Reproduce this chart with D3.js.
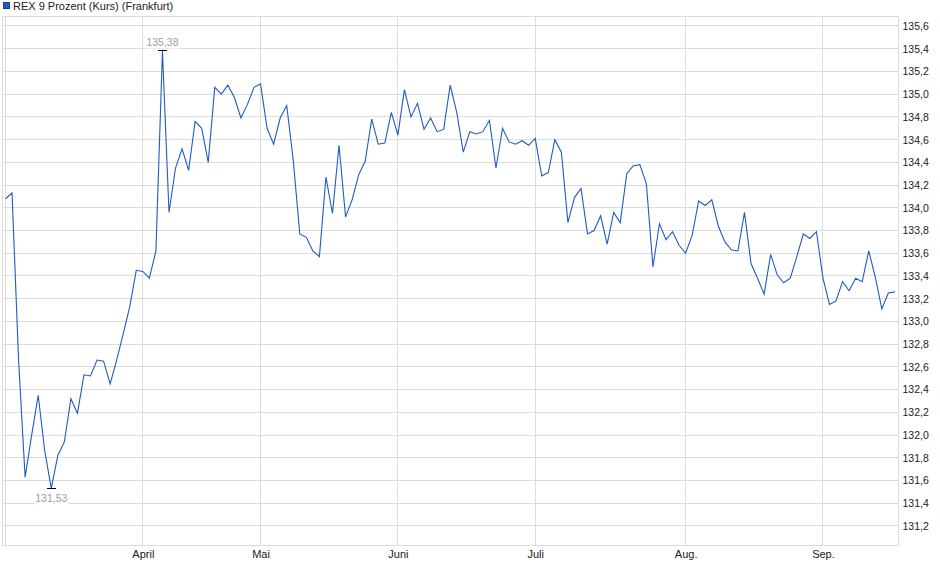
<!DOCTYPE html>
<html>
<head>
<meta charset="utf-8">
<script src="https://cdn.jsdelivr.net/npm/d3@7/dist/d3.min.js"></script>
<style>
  html, body { margin: 0; padding: 0; background: #fff; }
  svg { display: block; font-family: "Liberation Sans", Arial, sans-serif; }
</style>
</head>
<body>
<svg id="chart" width="940" height="579"></svg>
<script>
// ---- data (trading-day index -> closing value) ----
const seriesName = "REX 9 Prozent (Kurs) (Frankfurt)";
const values = [
  134.08, 134.13, 132.66, 131.63, 132.00, 132.35, 131.86, 131.53, 131.82, 131.94,
  132.32, 132.19, 132.53, 132.52, 132.66, 132.65, 132.45, 132.66, 132.89, 133.13,
  133.45, 133.44, 133.38, 133.62, 135.38, 133.96, 134.35, 134.52, 134.33, 134.76,
  134.70, 134.40, 135.06, 135.00, 135.08, 134.97, 134.79, 134.91, 135.06, 135.09,
  134.70, 134.56, 134.79, 134.90, 134.42, 133.77, 133.74, 133.62, 133.57, 134.27,
  133.95, 134.55, 133.92, 134.07, 134.29, 134.41, 134.78, 134.56, 134.57, 134.84,
  134.64, 135.04, 134.80, 134.92, 134.69, 134.79, 134.67, 134.69, 135.08, 134.84,
  134.49, 134.67, 134.65, 134.67, 134.77, 134.35, 134.70, 134.58, 134.56, 134.59,
  134.55, 134.61, 134.28, 134.31, 134.60, 134.49, 133.87, 134.09, 134.17, 133.77,
  133.80, 133.93, 133.68, 133.96, 133.87, 134.30, 134.37, 134.38, 134.21, 133.48,
  133.86, 133.72, 133.79, 133.67, 133.60, 133.76, 134.06, 134.02, 134.07, 133.84,
  133.70, 133.63, 133.62, 133.96, 133.51, 133.38, 133.24, 133.59, 133.41, 133.34,
  133.38, 133.57, 133.77, 133.73, 133.79, 133.38, 133.15, 133.18, 133.35, 133.27,
  133.38, 133.35, 133.62, 133.39, 133.11, 133.25, 133.26
];
// month boundaries (trading-day index of first day of month)
const monthIndex  = [0, 21, 39, 60, 81, 104, 125];
const monthLabels = ["", "April", "Mai", "Juni", "Juli", "Aug.", "Sep."];
// y-axis ticks
const yTicks = [131.2, 131.4, 131.6, 131.8, 132.0, 132.2, 132.4, 132.6, 132.8, 133.0, 133.2,
                133.4, 133.6, 133.8, 134.0, 134.2, 134.4, 134.6, 134.8, 135.0, 135.2, 135.4, 135.6];

// ---- layout ----
const L = 3, R = 898.5, T = 16, B = 545.5;
const svg = d3.select("#chart");
const de = d3.formatLocale({decimal: ",", thousands: ".", grouping: [3], currency: ["", " €"]});
const f1 = de.format(".1f"), f2 = de.format(".2f");

const x = d3.scaleLinear().domain([0, values.length - 1]).range([5.5, 894.9]);
const y = d3.scaleLinear().domain([131.028, 135.688]).range([B, T]);
const px = v => Math.floor(v) + 0.5;

const grid = svg.append("g").attr("stroke", "#dcdcdc").attr("stroke-width", 1).attr("shape-rendering", "crispEdges");
grid.selectAll("line.h").data(yTicks).join("line").attr("class", "h")
  .attr("x1", L).attr("x2", R).attr("y1", d => px(y(d))).attr("y2", d => px(y(d)));
grid.selectAll("line.v").data(monthIndex).join("line").attr("class", "v")
  .attr("x1", d => px(x(d))).attr("x2", d => px(x(d))).attr("y1", T).attr("y2", B);
grid.append("rect").attr("x", L - 0.5).attr("y", T + 0.5).attr("width", R - L + 0.5).attr("height", B - T - 0.5)
  .attr("fill", "none");

// y axis labels (right)
const yAxis = d3.axisRight(y).tickValues(yTicks).tickFormat(f1).tickSize(0).tickPadding(4);
const ya = svg.append("g").attr("transform", `translate(${R},0)`).call(yAxis);
ya.select(".domain").remove();
ya.selectAll("text").attr("font-size", 10.5).attr("fill", "#222").attr("font-family", "Liberation Sans, Arial, sans-serif");

// x axis labels (bottom)
const xAxis = d3.axisBottom(x).tickValues(monthIndex).tickFormat((d, i) => monthLabels[i]).tickSize(0).tickPadding(5);
const xa = svg.append("g").attr("transform", `translate(0,${B})`).call(xAxis);
xa.select(".domain").remove();
xa.selectAll("text").attr("font-size", 11).attr("fill", "#222").attr("font-family", "Liberation Sans, Arial, sans-serif");

// series line
const line = d3.line().x((d, i) => x(i)).y(d => y(d));
svg.append("path").datum(values).attr("d", line)
  .attr("fill", "none").attr("stroke", "#1f5cc3").attr("stroke-width", 1.1);

// high / low markers
const hiI = values.indexOf(d3.max(values)), loI = values.indexOf(d3.min(values));
const marks = [
  {i: hiI, v: values[hiI], dy: -4.5, col: "#a89c90"},
  {i: loI, v: values[loI], dy: 13.5, col: "#95a0b2"}
];
marks.forEach(m => {
  const cx = x(m.i), cy = y(m.v);
  const g = svg.append("g");
  const bg = g.append("rect").attr("fill", "#fff");
  const t = g.append("text").attr("x", cx).attr("y", cy + m.dy).attr("text-anchor", "middle")
    .attr("font-size", 10.5).attr("fill", m.col).text(f2(m.v));
  const bb = t.node().getBBox();
  bg.attr("x", bb.x - 1).attr("y", bb.y).attr("width", bb.width + 2).attr("height", bb.height);
  g.append("line").attr("x1", cx - 4.5).attr("x2", cx + 4.5).attr("y1", px(cy)).attr("y2", px(cy))
    .attr("stroke", "#000").attr("stroke-width", 1).attr("shape-rendering", "crispEdges");
});

// legend / title
svg.append("rect").attr("x", 3.5).attr("y", 2.5).attr("width", 6).attr("height", 6)
  .attr("fill", "#1f5cc3").attr("stroke", "#1a3f7a").attr("stroke-width", 1);
svg.append("text").attr("x", 13).attr("y", 10).attr("font-size", 11).attr("fill", "#222").text(seriesName);
</script>
</body>
</html>
